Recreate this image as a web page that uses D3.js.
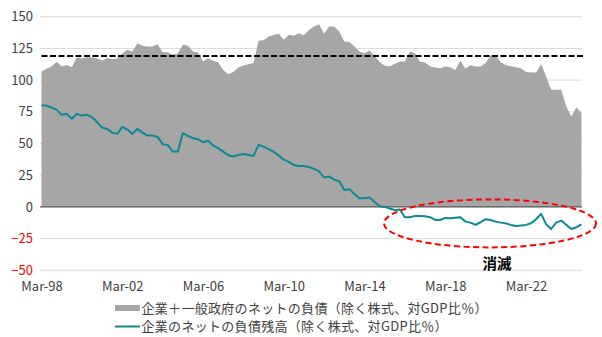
<!DOCTYPE html>
<html><head><meta charset="utf-8">
<script src="https://cdn.jsdelivr.net/npm/d3@7"></script>
<style>
html,body{margin:0;padding:0;background:#fff;}
svg{display:block;font-family:"Noto Sans CJK JP","Noto Sans",sans-serif;}
</style></head>
<body><svg id="chart" width="602" height="337"></svg>
<script>
// Quarterly categories: Mar-98 .. Dec-24
const quarters = d3.timeMonths(new Date(1998, 2, 1), new Date(2025, 0, 1), 3);

// 企業＋一般政府のネットの負債（除く株式、対GDP比％）
const totalDebt = [
  106.7,109,111,114.5,110.7,112,110.2,118,117,118,
  118,117,115.4,117.3,116.6,117,121,124,122.5,129,
  127,126.5,126.5,128.3,122,122,120,121,127.8,127,
  122.5,121.8,114.6,117.3,115.2,114,108,104.7,106.4,110,
  111.5,112.5,113.5,131,131.5,134.4,135.5,136.5,131.8,135.7,
  135,137,135.4,139.6,142.3,144.1,136.5,142.3,142,138.3,
  130.4,130,126.5,122.5,121.2,123.3,119.1,114.1,111.5,110.7,
  112.8,114.6,114.6,122.5,121.2,114.6,113.8,111,110,109.4,
  110.7,110.2,108,115.4,108.9,111.8,110.7,110.7,113.5,119.4,
  119.4,114,112,111,110.2,109.4,106.3,106,106,112.6,
  102.8,92.3,92.3,92.3,79.1,71.2,78.6,73.9
];

// 企業のネットの負債残高（除く株式、対GDP比％）
const corpDebt = [
  79.9,79.9,78.4,76.5,72.6,73.4,69.4,73.4,72,72.6,
  70.8,66.8,62.6,61.5,58.6,57.6,63.1,61,57.6,61.5,
  58.6,56.3,56.3,55.2,49.5,48.9,43.6,43.6,58.1,56,
  54.2,53.4,51,52.1,48.4,46.3,43.6,40.8,39.7,41,
  41.8,41,40.2,48.9,47.5,45.5,43.5,40.5,37.3,35.5,
  33,32.3,32.3,31.5,30,28,23.2,23.9,21.5,20.2,
  13.4,14,10.2,6.8,6.8,7.5,3.8,0.5,0,-1.3,
  -2.5,-2,-8.1,-8.1,-7.1,-7.1,-7.3,-8.1,-10.3,-10.3,
  -8.7,-8.9,-8.5,-8.1,-11.6,-12.4,-14.2,-12.1,-9.7,-10.3,
  -11.6,-12.4,-13,-14.2,-15,-14.7,-14.2,-12.9,-9.7,-5.5,
  -13.6,-17.4,-12.4,-10.8,-14.2,-17.4,-16,-13.7
];

const refLevel = [119];                      // 黒破線の水準
const yTicks = [150,125,100,75,50,25,0,-25,-50];
const xTickLabels = ["Mar-98","Mar-02","Mar-06","Mar-10","Mar-14","Mar-18","Mar-22"];
const legendLabels = ["企業＋一般政府のネットの負債（除く株式、対GDP比％）","企業のネットの負債残高（除く株式、対GDP比％）"];
const annotationText = "消滅";

const svg = d3.select("#chart");
const plotL = 40, plotR = 582;

const x = d3.scaleTime()
  .domain([quarters[0], quarters[quarters.length - 1]])
  .range([41.5, 581.5]);
const y = d3.scaleLinear().domain([-50, 150]).range([270.3, 16.7]);

// gridlines
svg.append("g").selectAll("line").data(yTicks.filter(d => d !== 0)).join("line")
  .attr("x1", plotL).attr("x2", plotR)
  .attr("y1", d => y(d)).attr("y2", d => y(d))
  .attr("stroke", "#d9d9d9").attr("stroke-width", 1);

// area
const area = d3.area()
  .x((d, i) => x(quarters[i]))
  .y0(y(0)).y1(d => y(d));
svg.append("path").datum(totalDebt)
  .attr("d", area).attr("fill", "#a6a6a6");

// zero axis line
svg.append("line").attr("x1", plotL).attr("x2", plotR)
  .attr("y1", y(0)).attr("y2", y(0))
  .attr("stroke", "#595959").attr("stroke-width", 1.3);

// dashed reference line
svg.append("g").selectAll("line").data(refLevel).join("line")
  .attr("x1", 41.5).attr("x2", 583)
  .attr("y1", d => y(d)).attr("y2", d => y(d))
  .attr("stroke", "#000").attr("stroke-width", 2)
  .attr("stroke-dasharray", "6,2.5");

// corporate line
const line = d3.line()
  .x((d, i) => x(quarters[i]))
  .y(d => y(d));
svg.append("path").datum(corpDebt)
  .attr("d", line).attr("fill", "none")
  .attr("stroke", "#0b8a94").attr("stroke-width", 2)
  .attr("stroke-linejoin", "round");

// y axis labels
const yAxis = d3.axisLeft(y).tickValues(yTicks).tickSize(0).tickPadding(0);
const gy = svg.append("g").attr("transform", "translate(33,0)").call(yAxis);
gy.select(".domain").remove();
gy.selectAll("text")
  .attr("font-size", 13)
  .attr("font-family", "\"Noto Sans CJK JP\",sans-serif")
  .attr("fill", d => d < 0 ? "#ff0000" : "#404040");

// x axis labels
const xTickDates = xTickLabels.map(s => d3.timeParse("%b-%y")(s));
const xAxis = d3.axisBottom(x).tickValues(xTickDates)
  .tickFormat(d3.timeFormat("%b-%y")).tickSize(0).tickPadding(0);
const gx = svg.append("g").attr("transform", "translate(0,282)").call(xAxis);
gx.select(".domain").remove();
gx.selectAll("text")
  .attr("font-size", 13)
  .attr("font-family", "\"Noto Sans CJK JP\",sans-serif")
  .attr("fill", "#404040");

// ellipse annotation
svg.append("ellipse")
  .attr("cx", 490).attr("cy", y(-13))
  .attr("rx", 106).attr("ry", 24)
  .attr("fill", "none").attr("stroke", "#ff0000")
  .attr("stroke-width", 2).attr("stroke-dasharray", "6,3.5");

svg.append("text").text(annotationText)
  .attr("x", 497).attr("y", 268.5)
  .attr("text-anchor", "middle")
  .attr("font-size", 14.5).attr("font-weight", "bold")
  .attr("fill", "#000");

// legend
const lg = svg.append("g");
lg.append("rect").attr("x", 115).attr("y", 305).attr("width", 25).attr("height", 6)
  .attr("fill", "#a6a6a6");
lg.append("line").attr("x1", 115).attr("x2", 140).attr("y1", 326.5).attr("y2", 326.5)
  .attr("stroke", "#0b8a94").attr("stroke-width", 2);
lg.selectAll("text").data(legendLabels).join("text")
  .attr("x", 141.5).attr("y", (d, i) => 312.8 + i * 18.5)
  .attr("font-size", 13).attr("letter-spacing", 0.3).attr("fill", "#404040")
  .text(d => d);
</script></body></html>
